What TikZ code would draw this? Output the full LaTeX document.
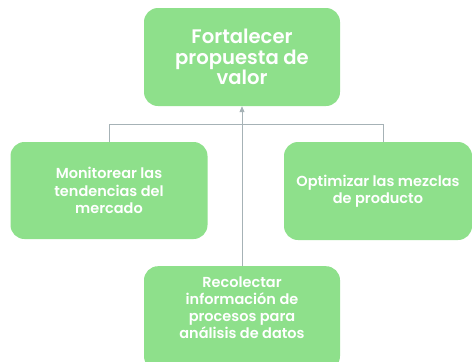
\documentclass[tikz,border=0pt]{standalone}
\usepackage{fontspec}
\setmainfont{Poppins}[UprightFont={* SemiBold}]
\usetikzlibrary{arrows.meta, positioning}

\definecolor{boxgreen}{RGB}{142,224,139}
\definecolor{linegray}{RGB}{166,178,182}

\tikzset{
	goalbox/.style={rectangle, rounded corners=14pt, fill=boxgreen, text=white, align=center, inner sep=0pt},
	link/.style={draw=linegray, line width=0.9pt}
}

\begin{document}
\begin{tikzpicture}[x=1pt, y=-1pt, >={Triangle[length=6pt, width=5pt]}]
	\useasboundingbox (0,0) rectangle (472,362);

	% Nodes
	\node [goalbox, minimum width=196pt, minimum height=98pt, font=\fontsize{19.6}{20.5}\selectfont] (valor) at (242,57) {Fortalecer\\propuesta de\\valor};
	\node [goalbox, minimum width=197pt, minimum height=97pt, font=\fontsize{14.5}{17.5}\selectfont] (tendencias) at (109,190.5) {Monitorear las\\tendencias del\\mercado};
	\node [goalbox, minimum width=188pt, minimum height=98pt, font=\fontsize{14.5}{17.5}\selectfont] (mezclas) at (378,191) {Optimizar las mezclas\\de producto};
	\node [goalbox, minimum width=196pt, minimum height=104pt, font=\fontsize{14.5}{17}\selectfont, text depth=21pt, anchor=north] (datos) at (242,266) {Recolectar\\informaci\'on de\\procesos para\\an\'alisis de datos};

	% Connectors
	\coordinate (bar) at (242,124);
	\coordinate (mtick) at (383,142);
	\draw [link, ->] (datos.north) -- (valor.south);
	\draw [link] (tendencias.north) -- (tendencias.north |- bar) -- (mtick |- bar) -- (mtick);

\end{tikzpicture}
\end{document}
